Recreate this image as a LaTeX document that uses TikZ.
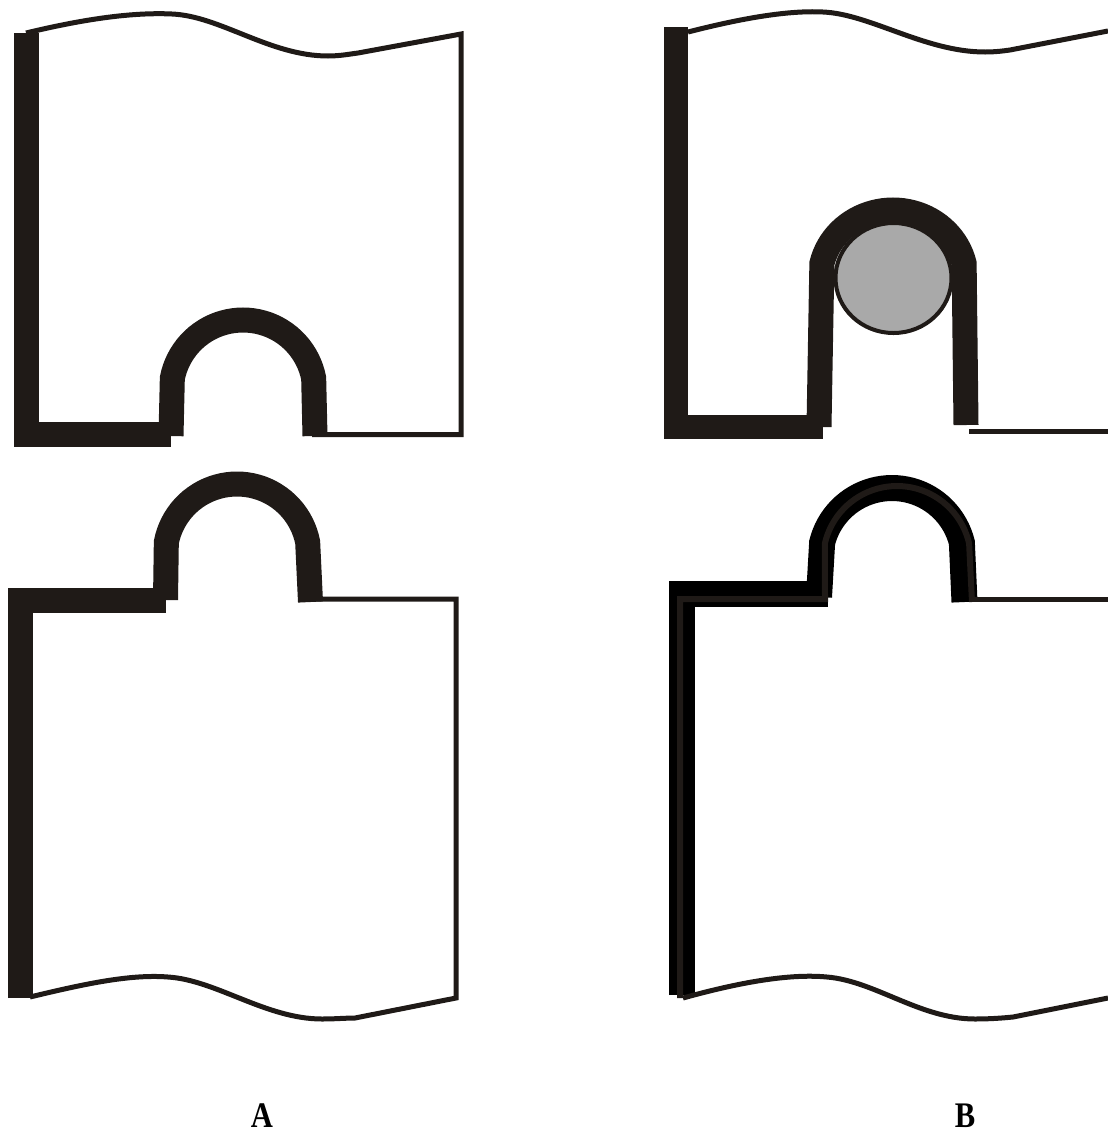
\documentclass[tikz,border=0pt]{standalone}
\usepackage{fontspec}
\setmainfont{Liberation Serif}
\definecolor{ink}{RGB}{31,26,23}
\definecolor{ballgray}{RGB}{169,169,169}
\begin{document}
\begin{tikzpicture}[x=1pt,y=-1pt,
  thickwall/.style={line width=25pt,ink,line join=miter},
  thinwall/.style={line width=5pt,ink,line join=miter},
  letter/.style={font=\bfseries\fontsize{36}{40}\selectfont,inner sep=0pt,anchor=base}]
\useasboundingbox (0,0) rectangle (1108,1133);
\draw[thickwall] (26,33) -- (26,434) -- (171,434);
\draw[thickwall] (171,436) -- plot[domain=169:11,samples=41] ({243+72*cos(\x)},{392-72*sin(\x)}) -- (315,436);
\draw[thinwall] (312,434.5) -- (461,434.5) -- (461,34) -- (358,53) .. controls (350,54) and (340,56) .. (328,56) .. controls (270,56) and (220,16) .. (172,14) .. controls (130,12) and (80,20) .. (26,33);
\draw[thickwall] (20.5,998) -- (20.5,600) -- (166,600);
\draw[thickwall] (165.5,600) -- plot[domain=169:11,samples=41] ({237+72*cos(\x)},{556-72*sin(\x)}) -- (310.5,602);
\draw[thinwall] (310,599) -- (456,599) -- (456,998) -- (355,1018) .. controls (346,1018) and (335,1019) .. (322,1019) .. controls (266,1019) and (216,980) .. (168,977) .. controls (130,974) and (84,984) .. (30,997);
\draw[thickwall,line width=24pt] (676,27) -- (676,427) -- (823,427);
\draw[thickwall,line width=25pt] (819,427) -- plot[domain=167:13,samples=41] ({893+73*cos(\x)},{279-69*sin(\x)}) -- (966,425);
\draw[thinwall,line width=4pt,fill=ballgray] (893.5,278) ellipse [x radius=58,y radius=55];
\draw[thinwall] (969,431) -- (1108,431);
\draw[thinwall] (688,32) .. controls (735,20) and (785,10) .. (823,12) .. controls (870,14) and (925,52) .. (985,52) .. controls (995,52) and (1003,51) .. (1010,50) -- (1108,31);
\draw[thickwall,black,line width=26pt] (682,995) -- (682,594) -- (828,594);
\draw[thickwall,black,line width=26pt] (819,597) -- plot[domain=166:14,samples=41] ({892+72*cos(\x)},{560-72*sin(\x)}) -- (964.5,602);
\draw[ink,line width=6pt] (680,998) -- (680,599) -- (825,599) -- plot[domain=167:13,samples=41] ({897+74*cos(\x)},{560-74*sin(\x)}) -- (972,602);
\draw[thinwall] (970,599.5) -- (1108,599.5);
\draw[thinwall] (683,998) .. controls (730,985) and (785,973) .. (827,977) .. controls (875,981) and (920,1019) .. (975,1019) .. controls (990,1019) and (1003,1018) .. (1013,1017) -- (1108,998);
\node[letter] (labA) at (262,1127) {\scalebox{0.85}[1]{A}};
\node[letter] (labB) at (965,1127) {\scalebox{0.85}[1]{B}};
\end{tikzpicture}
\end{document}
